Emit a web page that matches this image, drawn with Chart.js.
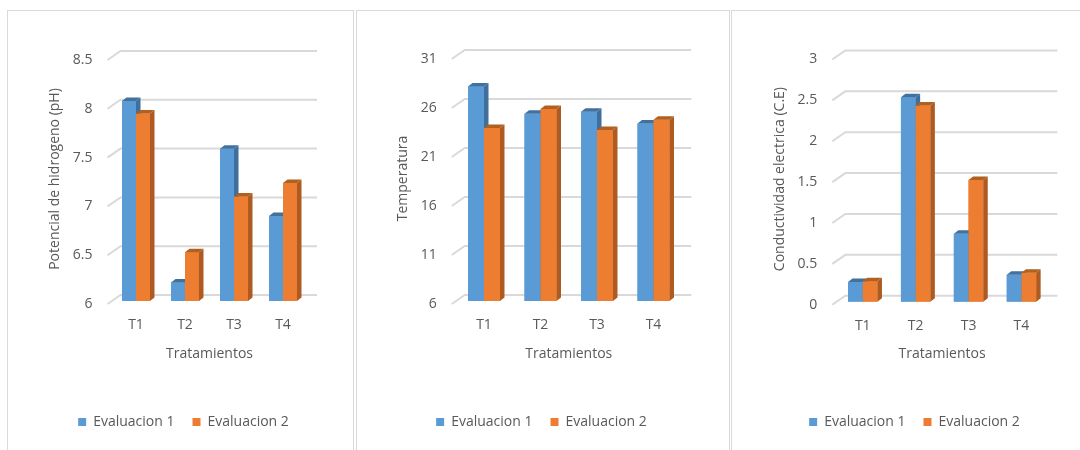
<!DOCTYPE html>
<html>
<head>
<meta charset="utf-8">
<script src="https://cdn.jsdelivr.net/npm/chart.js@4.4.1/dist/chart.umd.min.js"></script>
<style>
  html, body { margin: 0; padding: 0; background: #fff; }
  body { width: 1080px; height: 450px; position: relative; overflow: hidden; }
  .panel { position: absolute; top: 10px; height: 460px; border: 1px solid #d9d9d9; box-sizing: border-box; }
  .wrap { position: absolute; top: 0; height: 450px; }
  canvas { display: block; }
</style>
</head>
<body>
<div class="panel" style="left:7px; width:347px;"></div>
<div class="panel" style="left:356px; width:374px;"></div>
<div class="panel" style="left:731px; width:380px;"></div>

<div class="wrap" id="w1" style="left:40px; width:287px;"><canvas id="c1"></canvas></div>
<div class="wrap" id="w2" style="left:390px; width:303px;"><canvas id="c2"></canvas></div>
<div class="wrap" id="w3" style="left:765px; width:299px;"><canvas id="c3"></canvas></div>

<script>
// ---- data ----
const categories = ['T1', 'T2', 'T3', 'T4'];
const seriesNames = ['Evaluacion 1', 'Evaluacion 2'];

const phEval1 = [8.05, 6.19, 7.56, 6.87];
const phEval2 = [7.92, 6.50, 7.07, 7.21];

const tempEval1 = [27.9, 25.1, 25.3, 24.1];
const tempEval2 = [23.65, 25.6, 23.45, 24.5];

const ceEval1 = [0.24, 2.50, 0.83, 0.33];
const ceEval2 = [0.25, 2.40, 1.49, 0.355];

const phTicks = [6, 8.5, 0.5];      // min, max, step
const tempTicks = [6, 31, 5];
const ceTicks = [0, 3, 0.5];

const yTitles = ['Potencial de hidrogeno (pH)', 'Temperatura', 'Conductividad electrica (C.E)'];
const xTitle = 'Tratamientos';

// ---- style ----
const FONT = "'Open Sans', 'Liberation Sans', sans-serif";
const FS = 14;
const TEXT = '#595959';
const GRID = '#d9d9d9';
const FRONT = ['#5b9bd5', '#ed7d31'];
const SIDE = ['#3f6f9c', '#ae5a21'];
const TOP = ['#41719c', '#b0601f'];
const DX = 4.5, DY = 3.5;

const threeD = {
  id: 'threeD',
  beforeDatasetsDraw(chart) {
    const ctx = chart.ctx;
    const y = chart.scales.y;
    const a = chart.chartArea;
    ctx.save();
    ctx.strokeStyle = GRID;
    ctx.lineWidth = 2;
    y.ticks.forEach(t => {
      const py = y.getPixelForValue(t.value);
      ctx.beginPath();
      ctx.moveTo(a.left - 4, py + 3);
      ctx.lineTo(a.left + 9, py - 6);
      ctx.lineTo(a.right + 9.5, py - 6);
      ctx.stroke();
    });
    ctx.restore();
  },
  afterDatasetsDraw(chart) {
    const ctx = chart.ctx;
    const a = chart.chartArea;
    ctx.save();
    chart.data.datasets.forEach((ds, i) => {
      const meta = chart.getDatasetMeta(i);
      meta.data.forEach(bar => {
        const p = bar.getProps(['x', 'y', 'base', 'width'], true);
        const x1 = p.x - p.width / 2, x2 = p.x + p.width / 2;
        const top = p.y, base = Math.min(p.base, a.bottom);
        // front
        ctx.fillStyle = FRONT[i];
        ctx.fillRect(x1, top, x2 - x1, base - top);
        // side
        ctx.fillStyle = SIDE[i];
        ctx.beginPath();
        ctx.moveTo(x2, top);
        ctx.lineTo(x2 + DX, top - DY);
        ctx.lineTo(x2 + DX, base - DY);
        ctx.lineTo(x2, base);
        ctx.closePath();
        ctx.fill();
        // top
        ctx.fillStyle = TOP[i];
        ctx.beginPath();
        ctx.moveTo(x1, top);
        ctx.lineTo(x1 + DX, top - DY);
        ctx.lineTo(x2 + DX, top - DY);
        ctx.lineTo(x2, top);
        ctx.closePath();
        ctx.fill();
      });
    });
    ctx.restore();
  }
};

function makeChart(id, v1, v2, ticks, yTitle, cfg) {
  const [mn, mx, step] = ticks;
  const font = { family: FONT, size: FS };
  return new Chart(document.getElementById(id), {
    type: 'bar',
    data: {
      labels: categories,
      datasets: [
        { label: seriesNames[0], data: v1, backgroundColor: FRONT[0] },
        { label: seriesNames[1], data: v2, backgroundColor: FRONT[1] }
      ]
    },
    options: {
      responsive: true,
      maintainAspectRatio: false,
      animation: false,
      devicePixelRatio: 1,
      layout: { padding: { top: cfg.top, bottom: 11, left: 0, right: 0 } },
      datasets: { bar: { categoryPercentage: cfg.cat, barPercentage: 1, borderWidth: 0 } },
      plugins: {
        tooltip: { enabled: false },
        legend: {
          position: 'bottom',
          labels: { boxWidth: 8, boxHeight: 8, padding: 18, color: TEXT, font }
        }
      },
      scales: {
        x: {
          grid: { display: false, drawTicks: false },
          border: { display: false },
          ticks: { color: TEXT, font, padding: 15.6 },
          title: { display: true, text: xTitle, color: TEXT, font, padding: { top: 0, bottom: 34.6 } },
          afterFit: s => { s.height = cfg.xh; }
        },
        y: {
          position: 'left',
          min: mn, max: mx,
          grid: { display: false, drawTicks: false },
          border: { display: false },
          ticks: {
            stepSize: step, color: TEXT, font, padding: 19, labelOffset: 3,
            callback: v => String(+Number(v).toFixed(2))
          },
          title: { display: true, text: yTitle, color: TEXT, font, padding: { top: cfg.tp, bottom: 0 } },
          afterFit: s => { s.width = cfg.yw; }
        },
        pad: {
          position: 'right',
          display: true,
          grid: { display: false, drawTicks: false },
          border: { display: false },
          ticks: { display: false },
          afterFit: s => { s.width = cfg.rw; }
        }
      }
    },
    plugins: [threeD]
  });
}

makeChart('c1', phEval1, phEval2, phTicks, yTitles[0], { top: 57, xh: 96, yw: 71.5, rw: 19.5, tp: 6.6, cat: 0.571 });
makeChart('c2', tempEval1, tempEval2, tempTicks, yTitles[1], { top: 56, xh: 96, yw: 65.75, rw: 11.25, tp: 4.6, cat: 0.566 });
makeChart('c3', ceEval1, ceEval2, ceTicks, yTitles[2], { top: 56.5, xh: 95.3, yw: 71.3, rw: 16.1, tp: 6.6, cat: 0.556 });
</script>
</body>
</html>
